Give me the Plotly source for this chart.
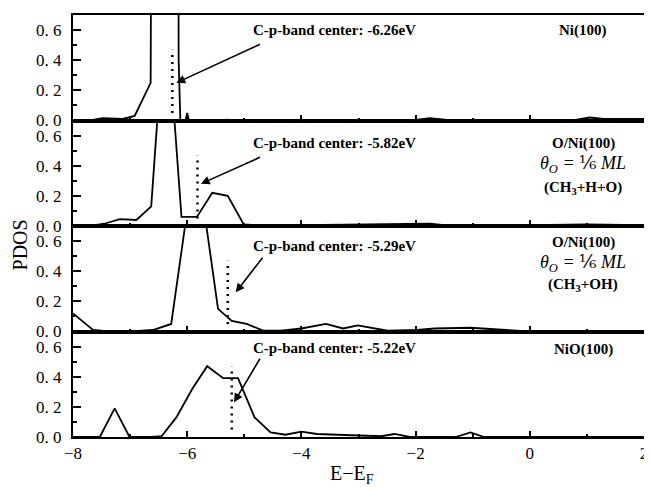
import plotly.graph_objects as go
from plotly.subplots import make_subplots

# ---------------- data ----------------
# Panel 1: Ni(100)
x_ni = [-8.0, -7.70, -7.48, -7.13, -6.92, -6.64, -6.60, -6.17, -6.15, -6.12, -6.03, -6.00, -5.97,
        -5.40, -5.30, -5.20, -2.0, -1.75, -1.45, 0.8, 1.05, 1.3, 2.0]
y_ni = [0.0, 0.0, 0.015, 0.01, 0.03, 0.25, 5.0, 5.0, 0.4, 0.0, 0.0, 0.05, 0.0,
        0.0, 0.006, 0.0, 0.004, 0.015, 0.004, 0.004, 0.02, 0.01, 0.01]
# Panel 2: O/Ni(100) (CH3+H+O)
x_oni1 = [-8.0, -7.70, -7.45, -7.18, -6.89, -6.63, -6.45, -6.30, -6.10, -5.83, -5.56, -5.29,
          -5.01, -4.75, -4.0, -2.0, -1.75, -1.5, 0.0, 1.0, 2.0]
y_oni1 = [0.0, 0.0, 0.015, 0.045, 0.04, 0.13, 1.1, 1.1, 0.06, 0.06, 0.22, 0.20,
          0.01, 0.005, 0.005, 0.01, 0.015, 0.005, 0.005, 0.01, 0.005]
# Panel 3: O/Ni(100) (CH3+OH)
x_oni2 = [-8.0, -7.65, -7.36, -7.0, -6.60, -6.28, -6.00, -5.72, -5.46, -5.22, -4.96, -4.66,
          -4.36, -4.0, -3.57, -3.27, -3.01, -2.49, -1.97, -1.67, -1.04, -0.5, 0.0, 1.0, 2.0]
y_oni2 = [0.12, 0.01, 0.0, 0.0, 0.01, 0.05, 0.80, 0.85, 0.15, 0.07, 0.05, 0.005,
          0.005, 0.02, 0.05, 0.02, 0.04, 0.005, 0.01, 0.02, 0.025, 0.01, 0.0, 0.0, 0.0]
# Panel 4: NiO(100)
x_nio = [-8.0, -7.53, -7.27, -7.01, -6.63, -6.45, -6.19, -5.91, -5.65, -5.37, -5.11, -4.82,
         -4.54, -4.28, -4.0, -3.73, -3.0, -2.6, -2.37, -2.1, -1.3, -1.04, -0.8, 0.0, 2.0]
y_nio = [0.0, 0.0, 0.19, 0.0, 0.0, 0.005, 0.13, 0.32, 0.47, 0.39, 0.39, 0.13,
         0.03, 0.015, 0.035, 0.02, 0.01, 0.005, 0.02, 0.0, 0.0, 0.03, 0.0, 0.0, 0.0]

centers = [-6.26, -5.82, -5.29, -5.22]
center_labels = ["C-p-band center: -6.26eV", "C-p-band center: -5.82eV",
                 "C-p-band center: -5.29eV", "C-p-band center: -5.22eV"]
center_text_y = [0.60, 0.55, 0.57, 0.59]
arrow_tail = [(-4.70, 0.51), (-4.70, 0.46), (-4.66, 0.50), (-4.71, 0.53)]
arrow_head = [(-6.19, 0.25), (-5.76, 0.28), (-5.15, 0.26), (-5.18, 0.23)]
dot_range = [0.05, 0.47]

side_labels = [
    [("<b>Ni(100)</b>", 0.60, 15)],
    [("<b>O/Ni(100)</b>", 0.55, 15), ("<i>θ<sub>O</sub> = </i>⅙<i> ML</i>", 0.41, 18),
     ("<b>(CH<sub>3</sub>+H+O)</b>", 0.25, 15)],
    [("<b>O/Ni(100)</b>", 0.59, 15), ("<i>θ<sub>O</sub> = </i>⅙<i> ML</i>", 0.45, 18),
     ("<b>(CH<sub>3</sub>+OH)</b>", 0.31, 15)],
    [("<b>NiO(100)</b>", 0.58, 15)],
]
side_x = 0.94

y_tickvals = [0.0, 0.2, 0.4, 0.6]
y_ticktext = ["0. 0", "0. 2", "0. 4", "0. 6"]
x_tickvals = [-8, -6, -4, -2, 0, 2]
x_ticktext = ["−8", "−6", "−4", "−2", "0", "2"]

FONT = "Liberation Serif, Times New Roman, DejaVu Serif, serif"

fig = make_subplots(rows=4, cols=1, shared_xaxes=True, vertical_spacing=0)

series = [(x_ni, y_ni), (x_oni1, y_oni1), (x_oni2, y_oni2), (x_nio, y_nio)]
for i, (xs, ys) in enumerate(series):
    r = i + 1
    fig.add_trace(go.Scatter(x=xs, y=ys, mode="lines",
                             line=dict(color="black", width=1.8), showlegend=False), row=r, col=1)
    fig.add_trace(go.Scatter(x=[centers[i], centers[i]], y=dot_range, mode="lines",
                             line=dict(color="black", width=2.5, dash="2px,5px"),
                             showlegend=False), row=r, col=1)

for i in range(4):
    n = "" if i == 0 else str(i + 1)
    xr, yr = "x" + n, "y" + n
    fig.add_annotation(x=-4.89, y=center_text_y[i], xref=xr, yref=yr, text="<b>" + center_labels[i] + "</b>",
                       showarrow=False, xanchor="left", yanchor="middle",
                       font=dict(family=FONT, size=15, color="black"))
    fig.add_annotation(x=arrow_head[i][0], y=arrow_head[i][1], ax=arrow_tail[i][0], ay=arrow_tail[i][1],
                       xref=xr, yref=yr, axref=xr, ayref=yr, text="", showarrow=True,
                       arrowhead=2, arrowsize=1.1, arrowwidth=1.6, arrowcolor="black")
    for (t, yy, fs) in side_labels[i]:
        fig.add_annotation(x=side_x, y=yy, xref=xr, yref=yr, text=t, showarrow=False,
                           xanchor="center", yanchor="middle",
                           font=dict(family=FONT, size=fs, color="black"))

for r in range(1, 5):
    fig.update_yaxes(range=[0, 0.7], tickvals=y_tickvals, ticktext=y_ticktext,
                     ticks="inside", ticklen=8, tickwidth=2, tickcolor="black",
                     minor=dict(ticks="inside", dtick=0.1, tick0=0, ticklen=4, tickwidth=2, tickcolor="black"),
                     showline=True, linewidth=2, linecolor="black", mirror=True,
                     showgrid=False, zeroline=False, ticklabelstandoff=6,
                     tickfont=dict(family=FONT, size=17, color="black"), row=r, col=1)
    fig.update_xaxes(range=[-8, 2], tickvals=x_tickvals, ticktext=x_ticktext,
                     ticks="inside", ticklen=6, tickwidth=2, tickcolor="black",
                     minor=dict(ticks="inside", dtick=1, tick0=0, ticklen=3, tickwidth=1.5, tickcolor="black"),
                     showline=True, linewidth=2, linecolor="black", mirror=True,
                     showgrid=False, zeroline=False,
                     tickfont=dict(family=FONT, size=17, color="black"), row=r, col=1)

fig.update_xaxes(showticklabels=True, row=4, col=1)

fig.add_annotation(x=-0.092, y=0.455, xref="paper", yref="paper", text="PDOS", textangle=-90,
                   xanchor="center", yanchor="middle",
                   showarrow=False, font=dict(family=FONT, size=20, color="black"))
fig.add_annotation(x=0.489, y=-0.088, xref="paper", yref="paper", text="E−E<sub>F</sub>",
                   xanchor="center", yanchor="middle",
                   showarrow=False, font=dict(family=FONT, size=20, color="black"))

fig.update_layout(width=644, height=479, margin=dict(l=65, r=4, t=7, b=50),
                  plot_bgcolor="white", paper_bgcolor="white", showlegend=False)

fig.write_html("out.html")
